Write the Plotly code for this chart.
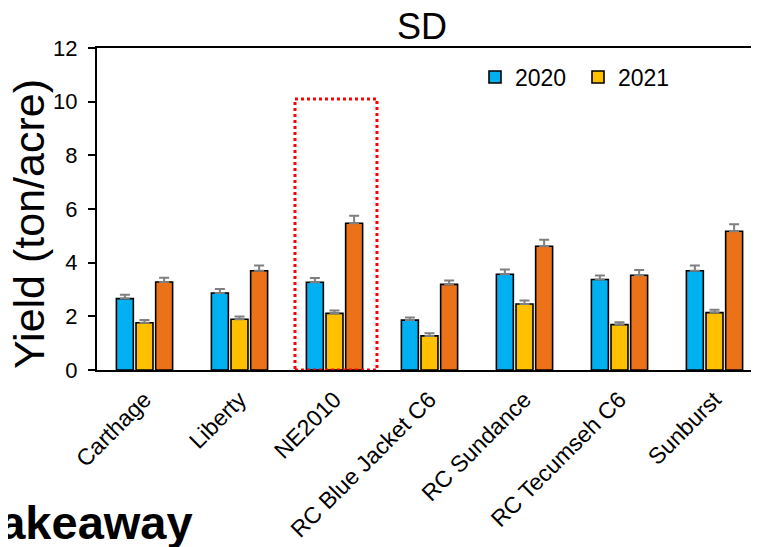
import plotly.graph_objects as go

categories = ["Carthage", "Liberty", "NE2010", "RC Blue Jacket C6",
              "RC Sundance", "RC Tecumseh C6", "Sunburst"]
y2020 = [2.66, 2.87, 3.27, 1.86, 3.57, 3.37, 3.70]
err2020 = [0.14, 0.15, 0.16, 0.10, 0.18, 0.15, 0.19]
y2021 = [1.76, 1.89, 2.11, 1.27, 2.46, 1.69, 2.14]
err2021 = [0.10, 0.10, 0.11, 0.10, 0.13, 0.09, 0.11]
y3 = [3.28, 3.70, 5.47, 3.19, 4.61, 3.53, 5.17]
err3 = [0.16, 0.19, 0.28, 0.15, 0.24, 0.20, 0.26]

# page body has an 8px margin: work in screen pixels and convert
OFF = 8
W, H = 759, 547
ML, MT = 97 - OFF, 48 - OFF
PH = 322
MB = H - MT - PH
MR = 0
PW = W - ML - MR

FONT = "Liberation Sans, Arial, sans-serif"

def px_x(p):
    return (p - OFF - ML) / PW

def px_y(p):
    return (MT + PH - (p - OFF)) / PH

fig = go.Figure()
series = [
    ("2020", y2020, err2020, "#00B0F0", True),
    ("2021", y2021, err2021, "#FFC000", True),
    ("2022", y3, err3, "#EC7219", False),
]
for name, vals, errs, col, show in series:
    fig.add_trace(go.Bar(
        x=categories, y=vals, name=name, showlegend=show,
        marker=dict(color=col, line=dict(color="black", width=1.6)),
        error_y=dict(type="data", array=errs, arrayminus=[0] * len(errs),
                     symmetric=False, color="#7F7F7F", thickness=2, width=5),
    ))

# dotted highlight around NE2010
fig.add_shape(type="rect", xref="x", yref="y", x0=1.584, x1=2.447, y0=0, y1=10.1,
              line=dict(color="#FF0000", width=3, dash="dot"), layer="above")

fig.update_layout(
    width=W, height=H,
    margin=dict(l=ML, r=MR, t=MT, b=MB, pad=0),
    paper_bgcolor="white", plot_bgcolor="white",
    barmode="group", bargap=0.38, bargroupgap=0.136,
    font=dict(family=FONT, color="black"),
    title=dict(text="SD", font=dict(size=36, family=FONT, color="black"),
               xref="paper", x=px_x(422), xanchor="center",
               yref="container", y=1 - (26.5 - OFF) / H, yanchor="middle"),
    legend=dict(orientation="h", x=px_x(475), xanchor="left", y=px_y(77), yanchor="middle",
                font=dict(size=23, family=FONT), bgcolor="rgba(0,0,0,0)",
                itemwidth=30, traceorder="normal", entrywidth=58),
    xaxis=dict(range=[-0.5, -0.5 + PW / 95], showline=True, mirror=True, linecolor="black",
               linewidth=2, ticks="", tickangle=-45, tickfont=dict(size=23, family=FONT),
               showgrid=False, zeroline=False, ticklabelstandoff=5),
    yaxis=dict(range=[0, 12], dtick=2, showline=True, linecolor="black", linewidth=2,
               ticks="outside", ticklen=7, tickwidth=2, tickcolor="black",
               tickfont=dict(size=22, family=FONT), showgrid=False, zeroline=False,
               ticklabelstandoff=6),
    annotations=[
        dict(text="Yield (ton/acre)", textangle=-90, xref="paper", yref="paper",
             x=px_x(29), y=px_y(224), xanchor="center", yanchor="middle",
             showarrow=False, font=dict(size=43, family=FONT, color="black")),
        dict(text="<b>Takeaway</b>", xref="paper", yref="paper",
             x=px_x(195), y=px_y(522), xanchor="right", yanchor="middle",
             showarrow=False, font=dict(size=47, family=FONT, color="black")),
    ],
)

fig.write_html("out.html")
